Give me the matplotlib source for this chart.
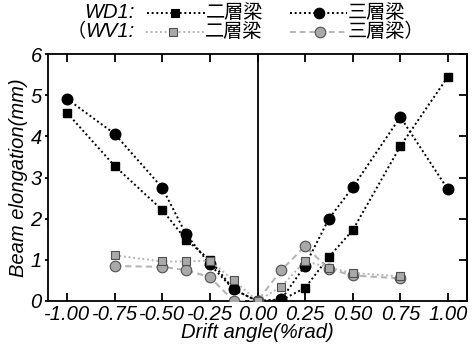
import matplotlib
matplotlib.use("Agg")
import matplotlib.pyplot as plt
from matplotlib.lines import Line2D

# ---- data ----
drift = [-1.0, -0.75, -0.5, -0.375, -0.25, -0.125, 0.0, 0.125, 0.25, 0.375, 0.5, 0.75, 1.0]
wd1_2f = [4.57, 3.28, 2.21, 1.49, 1.00, 0.28, 0.0, 0.02, 0.32, 1.07, 1.72, 3.76, 5.45]
wd1_3f = [4.91, 4.06, 2.75, 1.62, 0.89, 0.28, 0.0, 0.04, 0.86, 2.00, 2.76, 4.47, 2.71]
drift_wv = [-0.75, -0.5, -0.375, -0.25, -0.125, 0.0, 0.125, 0.25, 0.375, 0.5, 0.75]
wv1_2f = [1.11, 0.96, 0.96, 0.98, 0.50, 0.0, 0.35, 0.97, 0.81, 0.68, 0.60]
wv1_3f = [0.85, 0.83, 0.75, 0.58, 0.0, 0.0, 0.75, 1.33, 0.78, 0.62, 0.55]
xticks = [-1.0, -0.75, -0.5, -0.25, 0.0, 0.25, 0.5, 0.75, 1.0]
xticklabels = ["-1.00", "-0.75", "-0.50", "-0.25", "0.00", "0.25", "0.50", "0.75", "1.00"]
yticks = [0, 1, 2, 3, 4, 5, 6]

LAT = "Liberation Sans"
CJK = "Noto Sans CJK JP"
FS = 14.5
FS_CJK = 13.8
W, H = 474, 346

fig = plt.figure(figsize=(W / 100, H / 100), dpi=100)
ax = fig.add_axes([48 / W, 1 - 301 / H, (467 - 48) / W, (301 - 54) / H])

GRAY_L = "#b5b5b5"
GRAY_F = "#a9a9a9"
EDGE_G = "#505050"
MS_S = 6.2
MS_O = 7.6

ax.plot(drift, wd1_2f, color="black", lw=1.4, dashes=(1, 1.4), marker="s", ms=MS_S,
        mfc="black", mec="black", zorder=3)
ax.plot(drift, wd1_3f, color="black", lw=1.4, dashes=(1, 1.4), marker="o", ms=MS_O,
        mfc="black", mec="black", zorder=3)
ax.plot(drift_wv, wv1_3f, color=GRAY_L, lw=1.5, dashes=(3, 2), marker="o", ms=MS_O,
        mfc=GRAY_F, mec=EDGE_G, mew=0.8, zorder=4)
ax.plot(drift_wv, wv1_2f, color=GRAY_L, lw=1.4, dashes=(1, 1.4), marker="s", ms=MS_S,
        mfc=GRAY_F, mec=EDGE_G, mew=0.8, zorder=5)

ax.axvline(0, color="black", lw=1.3, zorder=2)

ax.set_xlim(-1.1, 1.1)
ax.set_ylim(0, 6)
ax.set_xticks(xticks)
ax.set_xticklabels(xticklabels, fontfamily=LAT, fontstyle="italic", fontsize=FS)
ax.set_yticks(yticks)
ax.set_yticklabels([str(v) for v in yticks], fontfamily=LAT, fontstyle="italic", fontsize=FS)
ax.tick_params(axis="x", which="major", direction="in", top=True, bottom=True,
               length=6, width=1.3, pad=3)
ax.tick_params(axis="y", which="major", direction="out", left=True, right=False,
               length=2.5, width=1.3, pad=2)
sec = ax.secondary_yaxis("right")
sec.set_yticks(yticks)
sec.tick_params(direction="in", length=6, width=1.3, labelright=False)
for s in sec.spines.values():
    s.set_linewidth(1.3)
for s in ax.spines.values():
    s.set_linewidth(1.3)

ax.set_xlabel("Drift angle(%rad)", fontfamily=LAT, fontstyle="italic", fontsize=FS, labelpad=-1)
ax.set_ylabel("Beam elongation(mm)", fontfamily=LAT, fontstyle="italic", fontsize=FS, labelpad=2)

# ---- legend (manual, figure pixel coordinates) ----
def fx(x):
    return x / W

def fy(y):
    return 1 - y / H

rows = [12.5, 31.5]
fig.text(fx(135), fy(rows[0]), "WD1:", ha="right", va="center", fontfamily=LAT,
         fontstyle="italic", fontsize=FS)
fig.text(fx(135), fy(rows[1]), "WV1:", ha="right", va="center", fontfamily=LAT,
         fontstyle="italic", fontsize=FS)
fig.text(fx(86), fy(rows[1]), "（", ha="right", va="center", fontfamily=CJK, fontsize=FS_CJK)

legend_items = [
    (rows[0], 147, 205, 175, "black", (1, 1.4), "s", MS_S, "black", "black", "二層梁"),
    (rows[0], 290, 347, 319, "black", (1, 1.4), "o", MS_O, "black", "black", "三層梁"),
    (rows[1], 146, 204, 173, GRAY_L, (1, 1.4), "s", MS_S, GRAY_F, EDGE_G, "二層梁"),
    (rows[1], 290, 347, 320, GRAY_L, (3, 2), "o", MS_O, GRAY_F, EDGE_G, "三層梁）"),
]
for (yy, x0, x1, xm, col, dsh, mk, ms, mfc, mec, lab) in legend_items:
    fig.add_artist(Line2D([fx(x0), fx(x1)], [fy(yy), fy(yy)], transform=fig.transFigure,
                          color=col, lw=1.4, dashes=dsh))
    fig.add_artist(Line2D([fx(xm)], [fy(yy)], transform=fig.transFigure, ls="none",
                          marker=mk, ms=ms, mfc=mfc, mec=mec, mew=0.8))
    fig.text(fx(x1 + 1), fy(yy), lab, ha="left", va="center", fontfamily=CJK, fontsize=FS_CJK)

fig.savefig("out.png", dpi=100)
